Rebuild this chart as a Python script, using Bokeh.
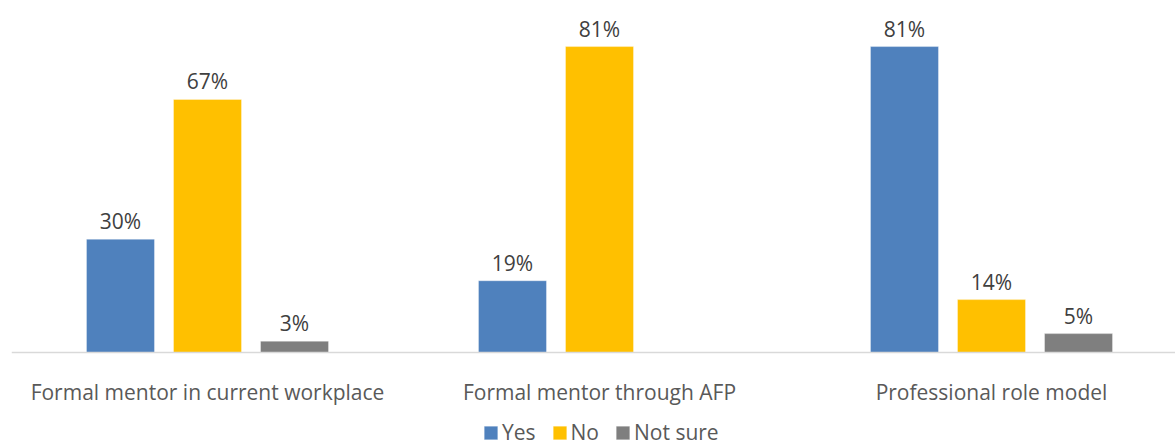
from bokeh.plotting import figure
from bokeh.models import ColumnDataSource, Range1d, Legend, LegendItem, Span
from bokeh.core.properties import value
from bokeh.transform import dodge
from bokeh.embed import file_html
from bokeh.resources import INLINE

categories = ["Formal mentor in current workplace", "Formal mentor through AFP", "Professional role model"]
series = ["Yes", "No", "Not sure"]
yes = [30, 19, 81]
no = [67, 81, 14]
not_sure = [3, None, 5]
colors = ["#4F81BD", "#FFC000", "#7F7F7F"]

FONT = "Open Sans"
FS = "21px"
xs = list(range(len(categories)))
PX = 3.777  # pixels per percentage point

p = figure(frame_width=1164, frame_height=446, output_backend="svg", toolbar_location=None,
           x_range=Range1d(-0.5, -0.5 + 1164 / 392), y_range=Range1d(-94 / PX, 352 / PX),
           x_axis_location=None, y_axis_location=None,
           min_border_left=11, min_border_right=0, min_border_top=0, min_border_bottom=0)
p.outline_line_color = None
p.grid.visible = False

offsets = [-0.222, 0.0, 0.222]
width = 68 / 392
renderers = []
for vals, name, color, off in zip([yes, no, not_sure], series, colors, offsets):
    x_pts = [x for x, v in zip(xs, vals) if v is not None]
    v_pts = [v for v in vals if v is not None]
    src = ColumnDataSource(dict(x=x_pts, top=v_pts, label=[f"{v}%" for v in v_pts]))
    r = p.vbar(x=dodge("x", off), top="top", bottom=0, width=width, source=src,
               fill_color=color, line_color="white", line_width=0.6, line_alpha=0.6)
    p.text(x=dodge("x", off), y="top", text="label", source=src, y_offset=-18,
           text_align="center", text_baseline="alphabetic", text_font=value(FONT),
           text_font_size=FS, text_color="#404040")
    renderers.append((name, r))

# category axis: baseline + labels
p.add_layout(Span(location=0, dimension="width", line_color="#D9D9D9", line_width=1.5))
cat_src = ColumnDataSource(dict(x=xs, y=[0] * len(xs), text=categories))
p.text(x="x", y="y", text="text", source=cat_src, y_offset=39,
       text_align="center", text_baseline="alphabetic", text_font=value(FONT),
       text_font_size=FS, text_color="#595959")

legend = Legend(items=[LegendItem(label=n, renderers=[r]) for n, r in renderers],
                orientation="horizontal", location=(471, 0),
                glyph_width=17, glyph_height=17, label_standoff=3, spacing=15,
                label_text_font=FONT, label_text_font_size=FS, label_text_color="#595959",
                border_line_color=None, background_fill_alpha=0, padding=0, margin=0)
p.add_layout(legend, "center")

open("out.html", "w").write(file_html(p, INLINE))
